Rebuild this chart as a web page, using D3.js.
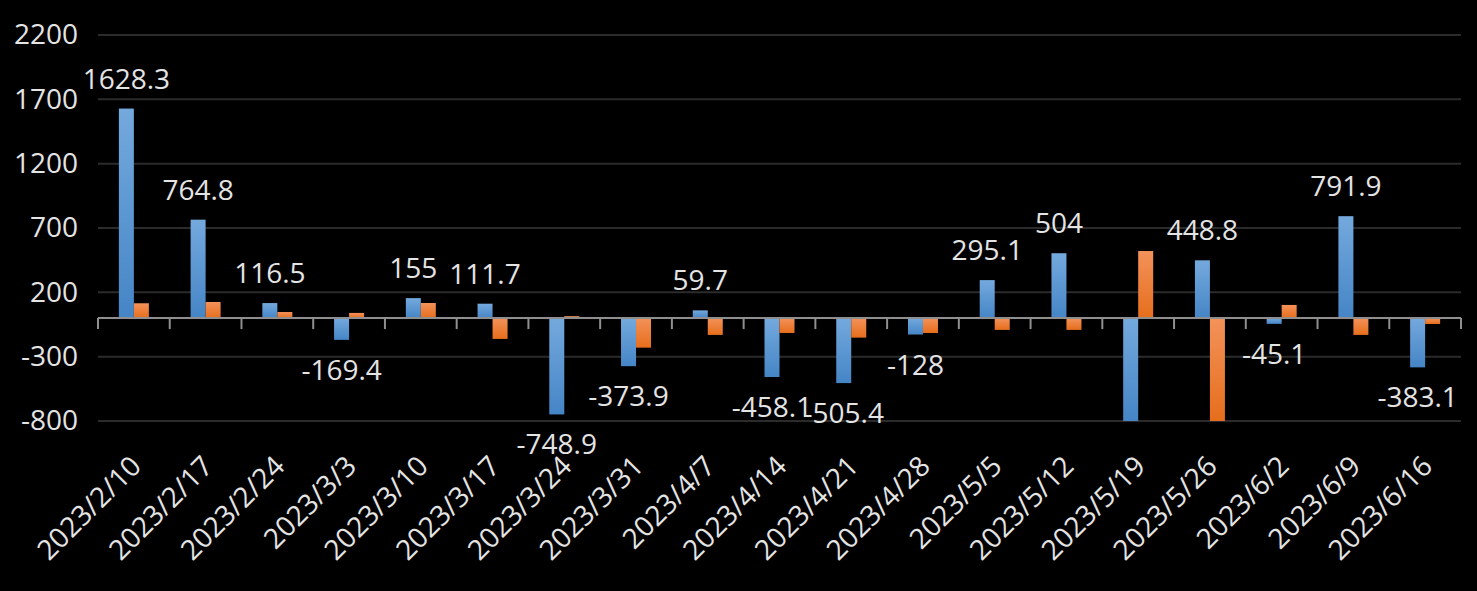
<!DOCTYPE html>
<html>
<head>
<meta charset="utf-8">
<script src="https://cdn.jsdelivr.net/npm/d3@7"></script>
<style>
  html, body { margin: 0; padding: 0; background: #000; }
  svg { display: block; }
  text { font-family: "Open Sans", "Noto Sans", sans-serif; fill: #e4e4e4; }
</style>
</head>
<body>
<svg id="chart" width="1477" height="591"></svg>
<script>
const categories = ["2023/2/10","2023/2/17","2023/2/24","2023/3/3","2023/3/10","2023/3/17","2023/3/24","2023/3/31","2023/4/7","2023/4/14","2023/4/21","2023/4/28","2023/5/5","2023/5/12","2023/5/19","2023/5/26","2023/6/2","2023/6/9","2023/6/16"];
const seriesA = [1628.3, 764.8, 116.5, -169.4, 155, 111.7, -748.9, -373.9, 59.7, -458.1, -505.4, -128, 295.1, 504, -1050, 448.8, -45.1, 791.9, -383.1];
const seriesB = [115, 125, 47, 40, 117, -162, 15, -230, -131, -116, -152, -116, -92, -92, 521, -1000, 102, -131, -46];
const yTicks = [2200, 1700, 1200, 700, 200, -300, -800];

const svg = d3.select("#chart");
const mLeft = 98, mRight = 1461, mTop = 35, mBottom = 421;
const yMin = -800, yMax = 2200;

const x0 = d3.scaleBand().domain(categories).range([mLeft, mRight]).padding(0);
const y = d3.scaleLinear().domain([yMin, yMax]).range([mBottom, mTop]);
const barW = 15;
const x1 = d3.scaleBand().domain(["A", "B"]).range([x0.bandwidth() / 2 - barW, x0.bandwidth() / 2 + barW]).padding(0);

const defs = svg.append("defs");
function grad(id, c1, c2) {
  const g = defs.append("linearGradient").attr("id", id).attr("x1", 0).attr("y1", 0).attr("x2", 0).attr("y2", 1);
  g.append("stop").attr("offset", "0%").attr("stop-color", c1);
  g.append("stop").attr("offset", "100%").attr("stop-color", c2);
}
grad("gBlue", "#74a9dd", "#4585c6");
grad("gOrange", "#f3925a", "#e66e1c");
defs.append("clipPath").attr("id", "plotClip").append("rect")
  .attr("x", mLeft).attr("y", mTop - 5).attr("width", mRight - mLeft).attr("height", mBottom - mTop + 5);

// grid lines
svg.append("g").selectAll("line").data(yTicks).join("line")
  .attr("x1", mLeft).attr("x2", mRight)
  .attr("y1", d => y(d)).attr("y2", d => y(d))
  .attr("stroke", "#2b2b2b").attr("stroke-width", 2);

// y axis labels
const yAxis = d3.axisLeft(y).tickValues(yTicks).tickSize(0).tickPadding(0).tickFormat(d => String(d));
const yg = svg.append("g").attr("transform", `translate(${78},0)`).call(yAxis);
yg.select(".domain").remove();
yg.selectAll("text").attr("font-size", 28).attr("fill", "#e4e4e4").attr("font-family", '"Open Sans", sans-serif');

// bars
const bars = svg.append("g").attr("clip-path", "url(#plotClip)");
const rows = categories.map((c, i) => ({ c, A: seriesA[i], B: seriesB[i] }));
function drawSeries(key, fill) {
  bars.selectAll(".bar" + key).data(rows).join("rect")
    .attr("class", "bar" + key)
    .attr("x", d => x0(d.c) + x1(key))
    .attr("width", x1.bandwidth())
    .attr("y", d => y(Math.max(0, Math.min(yMax, d[key]))))
    .attr("height", d => Math.abs(y(Math.max(yMin, Math.min(yMax, d[key]))) - y(0)))
    .attr("fill", `url(#${fill})`);
}
drawSeries("A", "gBlue");
drawSeries("B", "gOrange");

// zero axis line + ticks
const y0 = y(0);
svg.append("line").attr("x1", mLeft).attr("x2", mRight).attr("y1", y0).attr("y2", y0)
  .attr("stroke", "#8f8f8f").attr("stroke-width", 2);
const tickPos = categories.map(c => x0(c)).concat([mRight]);
svg.append("g").selectAll("line").data(tickPos).join("line")
  .attr("x1", d => d).attr("x2", d => d)
  .attr("y1", y0).attr("y2", y0 + 11)
  .attr("stroke", "#8f8f8f").attr("stroke-width", 2);

// data labels (series A)
svg.append("g").selectAll("text").data(rows.filter(d => d.A >= yMin && d.A <= yMax)).join("text")
  .attr("x", d => x0(d.c) + x1("A") + x1.bandwidth() / 2)
  .attr("y", d => d.A >= 0 ? y(d.A) - 20 : y(d.A) + 40)
  .attr("text-anchor", "middle")
  .attr("font-size", 28)
  .text(d => d.A);

// x axis labels (rotated, below plot)
svg.append("g").selectAll("text").data(categories).join("text")
  .attr("transform", d => `translate(${x0(d) + x0.bandwidth() / 2 + 2},${461}) rotate(-45)`)
  .attr("text-anchor", "end")
  .attr("dy", "0.35em")
  .attr("font-size", 28)
  .text(d => d);
</script>
</body>
</html>
